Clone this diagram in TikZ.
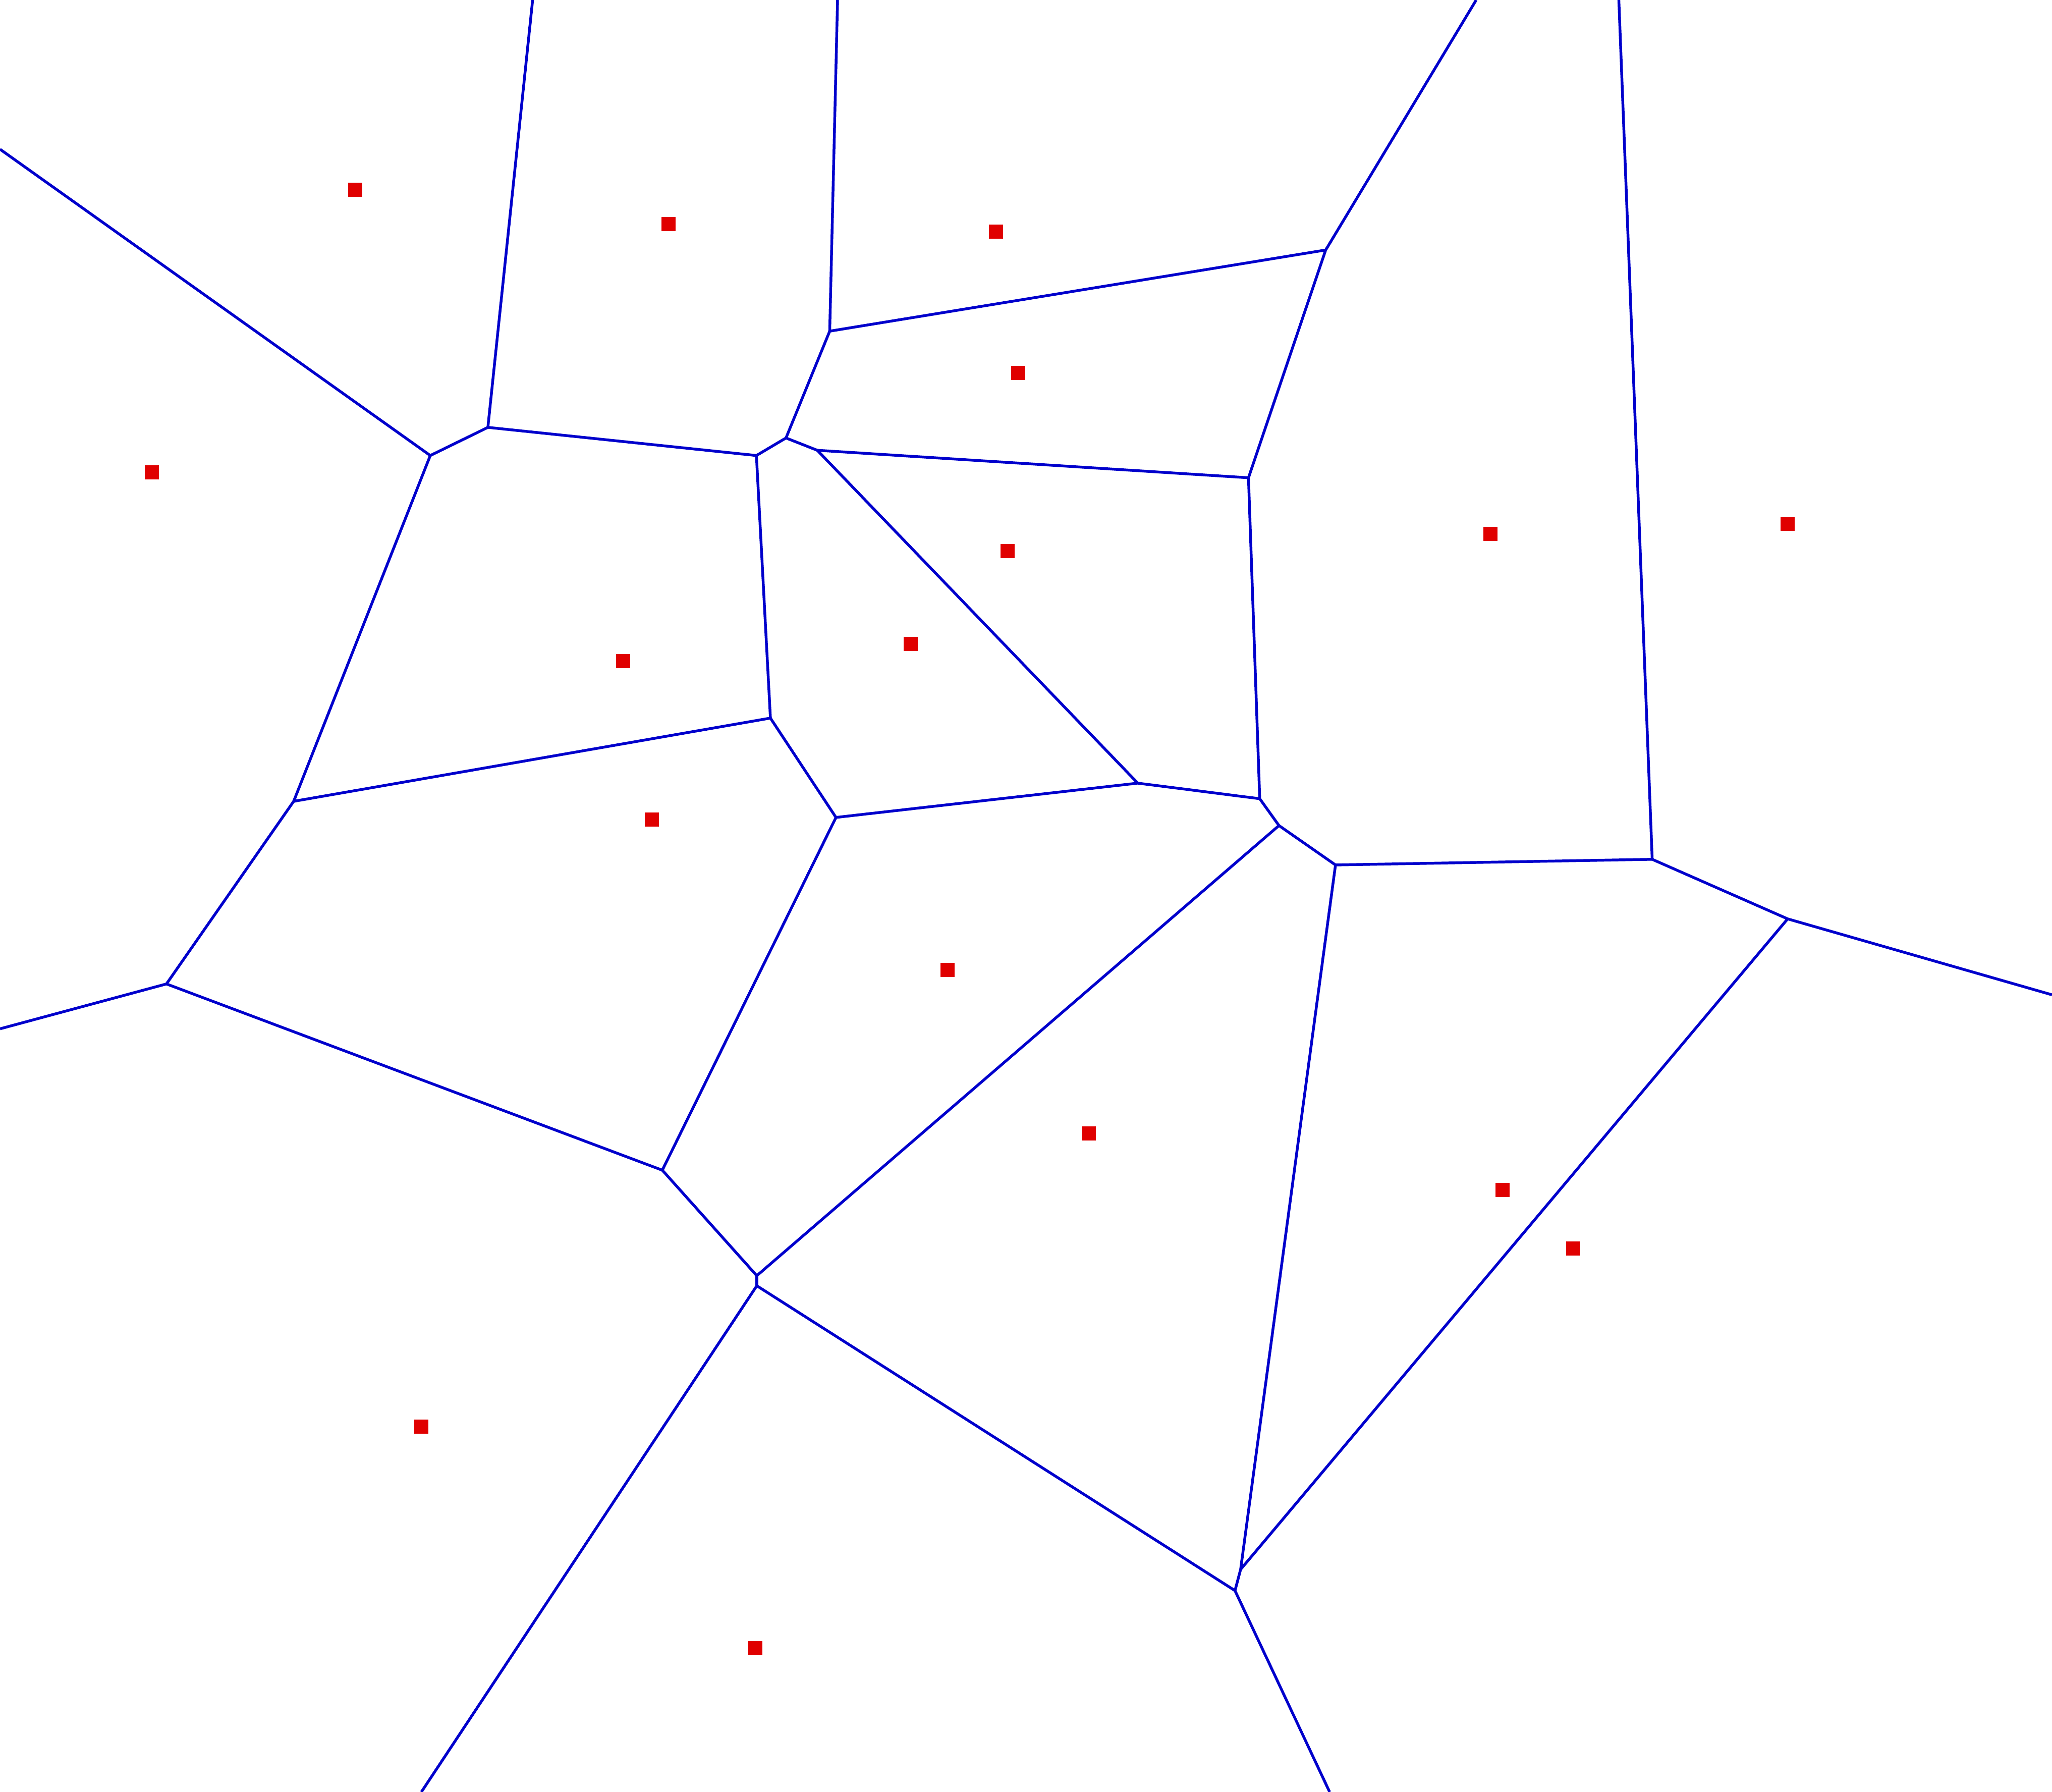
\documentclass[tikz,border=0pt]{standalone}
\definecolor{edgeblue}{RGB}{0,0,204}
\definecolor{sitered}{RGB}{224,0,0}
\begin{document}
\begin{tikzpicture}[x=0.01cm,y=-0.01cm,
  edge/.style={draw=edgeblue,line width=0.6pt},
  site/.style={fill=sitered,draw=none,minimum size=0.108cm,inner sep=0pt,rectangle}]
\useasboundingbox (0,0) rectangle (1568,1369);
\clip (0,0) rectangle (1568,1369);
% Voronoi vertices
\coordinate (v1) at (372.8,326.5);
\coordinate (v2) at (328.8,348);
\coordinate (vA) at (578,348);
\coordinate (vB) at (600.6,334.6);
\coordinate (vC) at (624.5,344);
\coordinate (vQ) at (634,253);
\coordinate (vR) at (1013,191);
\coordinate (vS) at (954,365);
\coordinate (vD) at (962.6,610.2);
\coordinate (vE) at (977.3,630.7);
\coordinate (vF) at (1020.5,660.8);
\coordinate (vI) at (1262.5,656.5);
\coordinate (vJ) at (1366,702);
\coordinate (vT) at (588.7,548.6);
\coordinate (vU) at (638.8,624.5);
\coordinate (vW) at (869.4,598.3);
\coordinate (vK) at (224.4,612.2);
\coordinate (vL) at (127.2,751.7);
\coordinate (vM) at (506.1,894);
\coordinate (vG1) at (578.3,974.6);
\coordinate (vG2) at (578.3,982.3);
\coordinate (vH1) at (948,1199);
\coordinate (vH2) at (943.7,1215.2);
% boundary ends
\coordinate (b1) at (407,0);
\coordinate (b2) at (640,0);
\coordinate (b3) at (1128,0);
\coordinate (b4) at (1237,0);
\coordinate (b5) at (0,114);
\coordinate (b6) at (0,786);
\coordinate (b7) at (1568,760);
\coordinate (b8) at (322,1369);
\coordinate (b9) at (1016,1369);
% edges
\draw[edge] (b1) -- (v1);
\draw[edge] (b2) -- (vQ);
\draw[edge] (b3) -- (vR);
\draw[edge] (b4) -- (vI);
\draw[edge] (b5) -- (v2);
\draw[edge] (v2) -- (v1);
\draw[edge] (v1) -- (vA);
\draw[edge] (vA) -- (vB);
\draw[edge] (vB) -- (vQ);
\draw[edge] (vB) -- (vC);
\draw[edge] (vQ) -- (vR);
\draw[edge] (vR) -- (vS);
\draw[edge] (vC) -- (vS);
\draw[edge] (vS) -- (vD);
\draw[edge] (vC) -- (vW);
\draw[edge] (vA) -- (vT);
\draw[edge] (vT) -- (vK);
\draw[edge] (vT) -- (vU);
\draw[edge] (vU) -- (vW);
\draw[edge] (vW) -- (vD);
\draw[edge] (vD) -- (vE);
\draw[edge] (vE) -- (vF);
\draw[edge] (vF) -- (vI);
\draw[edge] (vI) -- (vJ);
\draw[edge] (vJ) -- (b7);
\draw[edge] (vJ) -- (vH1);
\draw[edge] (vF) -- (vH1);
\draw[edge] (vH1) -- (vH2);
\draw[edge] (vE) -- (vG1);
\draw[edge] (vG1) -- (vG2);
\draw[edge] (vM) -- (vG1);
\draw[edge] (vG2) -- (vH2);
\draw[edge] (vG2) -- (b8);
\draw[edge] (vH2) -- (b9);
\draw[edge] (v2) -- (vK);
\draw[edge] (vK) -- (vL);
\draw[edge] (vL) -- (b6);
\draw[edge] (vL) -- (vM);
\draw[edge] (vM) -- (vU);
% sites
\node[site] (s1) at (271.4,145) {};
\node[site] (s2) at (511,171) {};
\node[site] (s3) at (761,177) {};
\node[site] (s4) at (778,285) {};
\node[site] (s5) at (116,361) {};
\node[site] (s6) at (770,421) {};
\node[site] (s7) at (1139,408) {};
\node[site] (s8) at (1366,400) {};
\node[site] (s9) at (476,505) {};
\node[site] (s10) at (696,492) {};
\node[site] (s11) at (498,626) {};
\node[site] (s12) at (724,741) {};
\node[site] (s13) at (832,866) {};
\node[site] (s14) at (1148,909) {};
\node[site] (s15) at (1202,954) {};
\node[site] (s16) at (322,1090) {};
\node[site] (s17) at (577,1259) {};
\end{tikzpicture}
\end{document}
